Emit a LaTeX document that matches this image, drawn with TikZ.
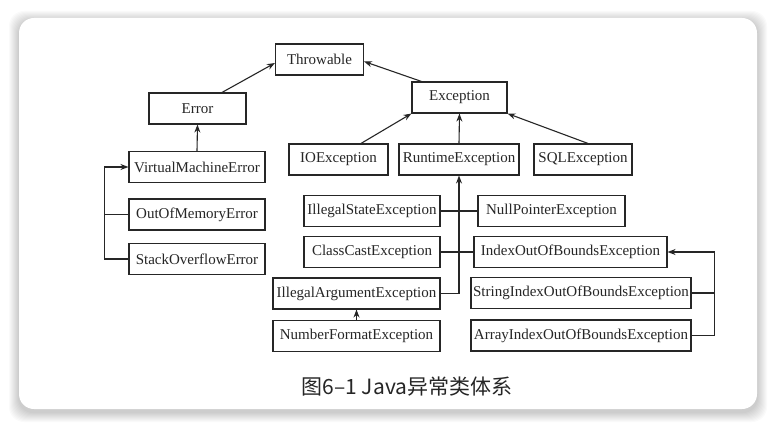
\documentclass[tikz,border=0pt]{standalone}
\usepackage{fontspec}
\setmainfont{Liberation Serif}
\newfontfamily\cjk{Noto Sans CJK SC}
\usetikzlibrary{arrows.meta}

\tikzset{
  cls/.style={draw=black!85, line width=1.1pt, minimum height=31pt, inner sep=1pt,
    font=\fontsize{15}{16}\selectfont, text=black!85},
  arr/.style={draw=black!85, line width=1.1pt, -{Stealth[length=8pt,width=6pt]}},
  ln/.style={draw=black!85, line width=1.1pt}
}

\begin{document}
\begin{tikzpicture}[x=1pt, y=-1pt]
    % page and card
    \useasboundingbox (0,0) rectangle (775,427);
    \fill[white] (0,0) rectangle (775,427);
    \foreach \s in {1,...,10}
        \fill[black, opacity=0.018, rounded corners=15pt] ({19-\s},{21-\s}) rectangle ({757+\s},{412+\s});
    \fill[white, rounded corners=15pt] (19,18) rectangle (757,409);

    % top of the tree
    \node (throwable) at (319.5,59.5) [cls, minimum width=88pt] {Throwable};
    \node (error) at (197.5,108.5) [cls, minimum width=97pt] {Error};
    \node (exception) at (459.5,97.5) [cls, minimum width=95pt] {Exception};

    % errors
    \node (vme) at (197,167) [cls, minimum width=136pt] {VirtualMachineError};
    \node (oome) at (197,214.5) [cls, minimum width=136pt] {OutOfMemoryError};
    \node (soe) at (197,259) [cls, minimum width=136pt] {StackOverflowError};

    % exceptions
    \node (ioex) at (338.5,159.5) [cls, minimum width=99pt] {IOException};
    \node (runtime) at (459,159.5) [cls, minimum width=120pt] {RuntimeException};
    \node (sqlex) at (583,159.5) [cls, minimum width=98pt] {SQLException};

    % runtime exceptions
    \node (illstate) at (372,211) [cls, minimum width=136pt] {IllegalStateException};
    \node (nullptr) at (551.5,211) [cls, minimum width=147pt] {NullPointerException};
    \node (classcast) at (372,252) [cls, minimum width=136pt] {ClassCastException};
    \node (ioob) at (570.5,252) [cls, minimum width=193pt] {IndexOutOfBoundsException};
    \node (illarg) at (356.5,293.5) [cls, minimum width=167pt] {IllegalArgumentException};
    \node (numfmt) at (356.5,336) [cls, minimum width=167pt] {NumberFormatException};
    \node (sioob) at (581,293) [cls, minimum width=220pt] {StringIndexOutOfBoundsException};
    \node (aioob) at (581,335.5) [cls, minimum width=220pt] {ArrayIndexOutOfBoundsException};

    % caption
    \node (caption) at (407,387) [font=\cjk\fontsize{21}{24}\selectfont, text=black!85] {图6–1 Java异常类体系};

    % inheritance arrows
    \draw[arr] ([xshift=24.5pt]error.north) -- ([yshift=-3.5pt]throwable.west);
    \draw[arr] ([xshift=10pt]exception.north west) -- ([yshift=-2pt]throwable.east);
    \draw[arr] (vme.north) -- (error.south);
    \draw[arr] ([xshift=22.5pt]ioex.north) -- (exception.south west);
    \draw[arr] (runtime.north) -- (exception.south);
    \draw[arr] ([xshift=5pt]sqlex.north) -- (exception.south east);

    % error bracket
    \draw[arr] (soe.west) -- ++(-24pt,0) |- (vme.west);
    \draw[ln] (oome.west) -- ++(-24pt,0);

    % runtime bus
    \draw[arr] (illarg.east) -| (runtime.south);
    \draw[ln] (illstate.east) -- (nullptr.west);
    \draw[ln] (classcast.east) -- (ioob.west);
    \draw[arr] (numfmt.north) -- (illarg.south);

    % index bracket
    \draw[arr] (aioob.east) -- ++(23pt,0) |- (ioob.east);
    \draw[ln] (sioob.east) -- ++(23pt,0);
\end{tikzpicture}
\end{document}
